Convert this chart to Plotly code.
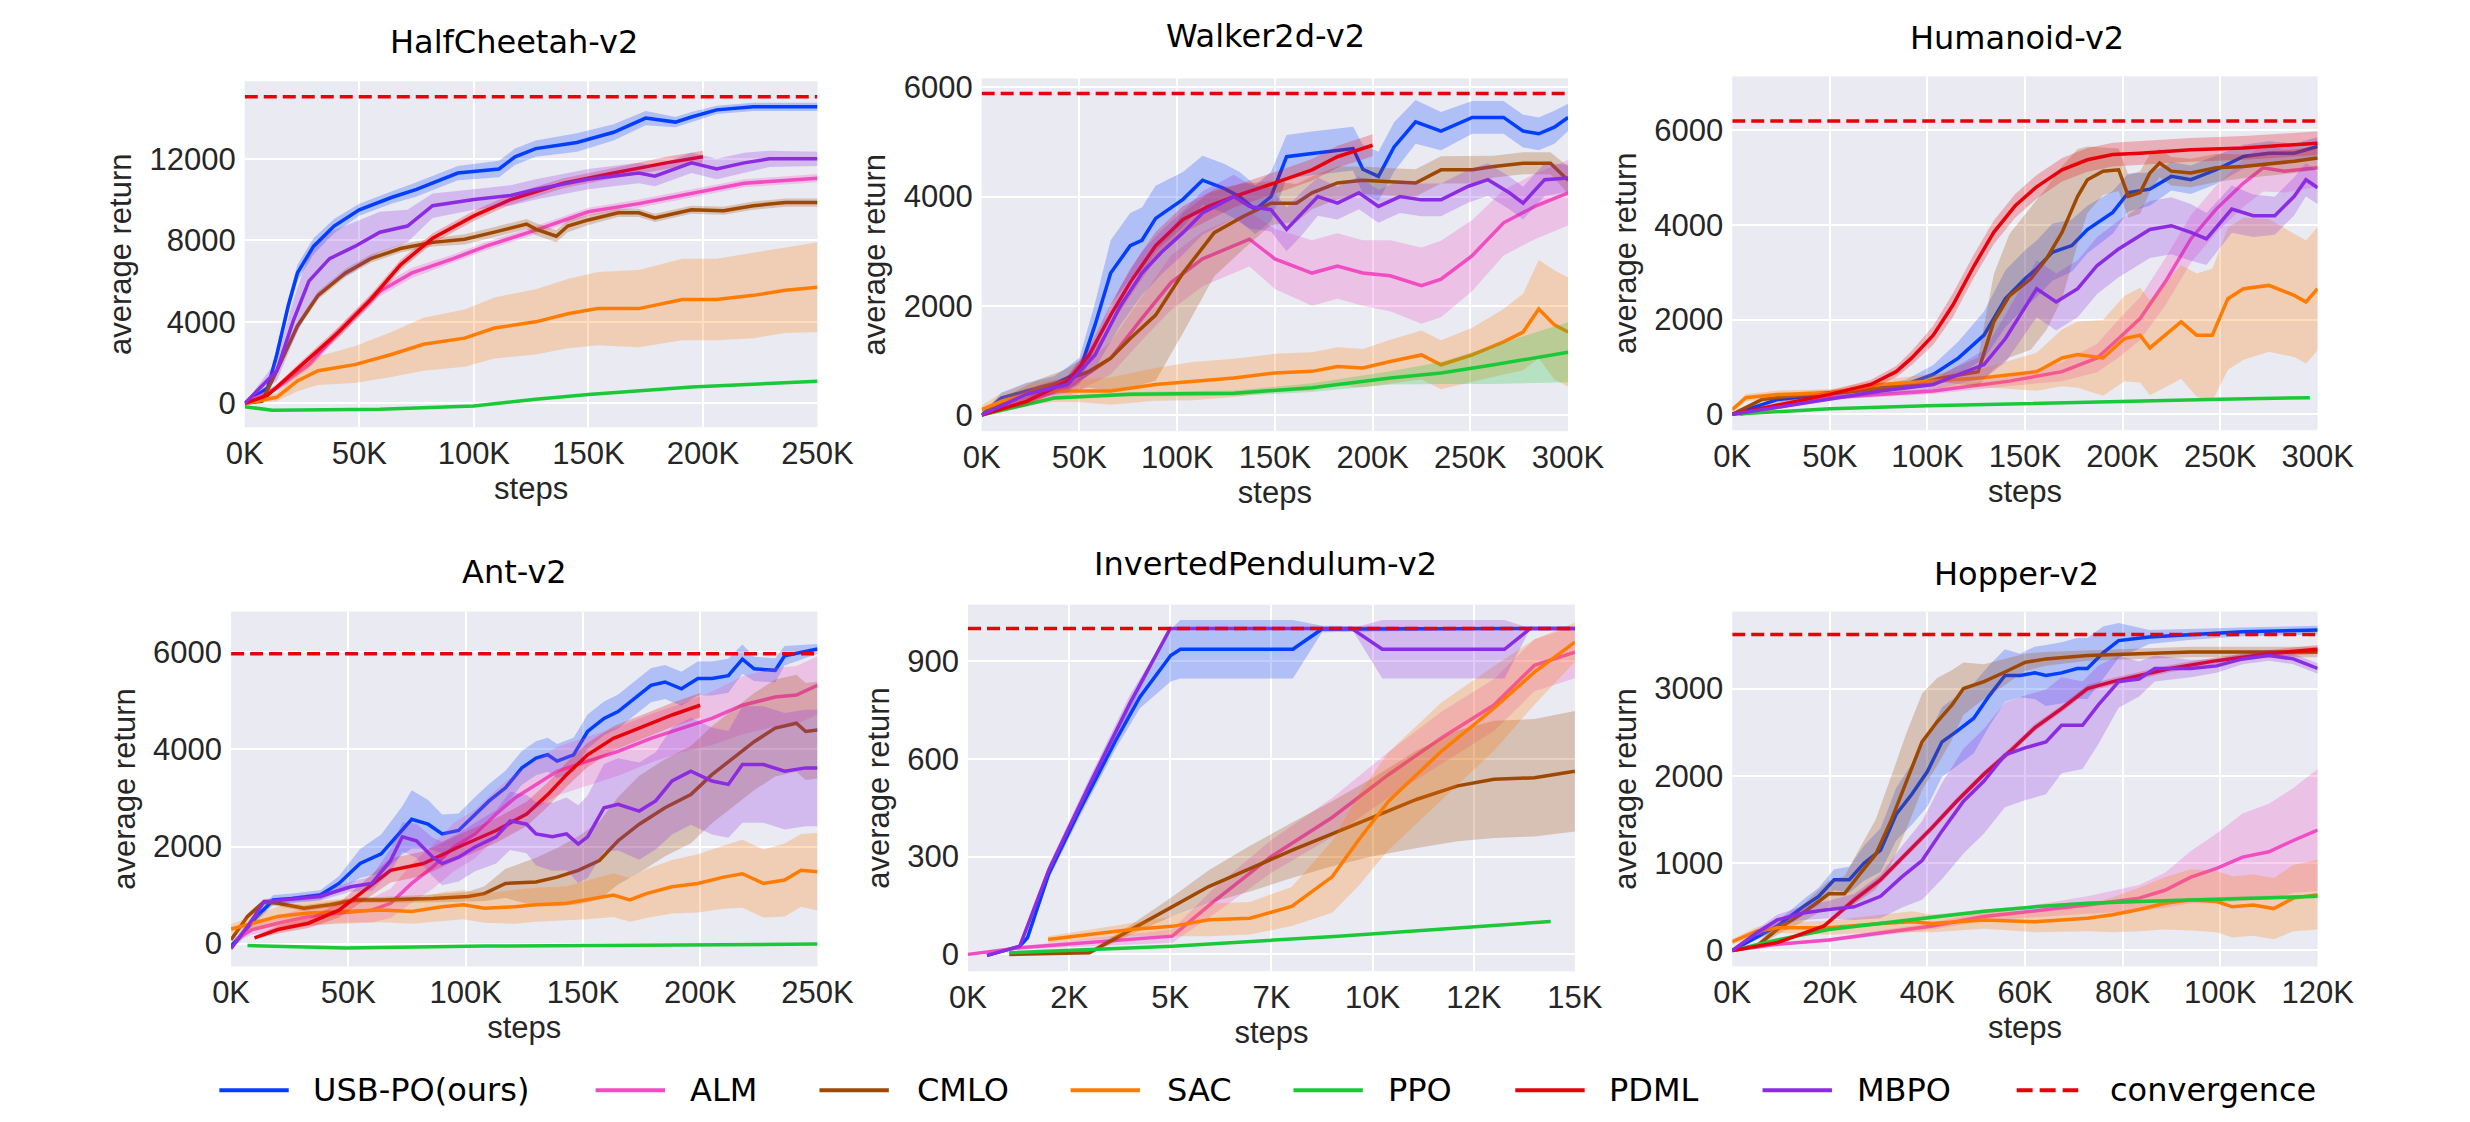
import plotly.graph_objects as go

FIG_W, FIG_H = 2470, 1122

# ---------------- legend / style ----------------
METHOD_KEYS = ["USB", "ALM", "CMLO", "SAC", "PPO", "PDML", "MBPO"]
METHOD_NAMES = ["USB-PO(ours)", "ALM", "CMLO", "SAC", "PPO", "PDML", "MBPO"]
METHOD_COLORS = ["#023eff", "#f14cc1", "#9f4800", "#ff7c00", "#1ac938", "#e8000b", "#8b2be2"]
CONV_NAME = "convergence"
CONV_COLOR = "#e8000b"

ENV_NAMES = ["HalfCheetah-v2", "Walker2d-v2", "Humanoid-v2", "Ant-v2",
             "InvertedPendulum-v2", "Hopper-v2"]
CONVERGENCE = [15050, 5890, 6190, 5970, 1000, 3620]

# ---------------- HalfCheetah-v2 (steps in K) ----------------
HC_USB_X = [0, 10, 14, 19, 23, 30, 39, 50, 64, 75, 93, 111, 118, 127, 145, 161, 175, 188, 195, 206, 222, 250]
HC_USB_Y = [0, 760, 2400, 4800, 6400, 7700, 8700, 9500, 10100, 10500, 11300, 11500, 12100, 12500, 12800, 13300, 14000, 13800, 14050, 14400, 14550, 14550]
HC_USB_SD = [0, 150, 300, 350, 400, 400, 350, 300, 300, 350, 350, 400, 400, 400, 450, 400, 350, 250, 250, 200, 200, 200]
HC_MBPO_X = [0, 14, 21, 28, 37, 48, 59, 71, 82, 100, 116, 127, 150, 172, 179, 195, 206, 218, 229, 250]
HC_MBPO_Y = [0, 1600, 4000, 6000, 7100, 7700, 8400, 8700, 9700, 10000, 10200, 10500, 11000, 11300, 11150, 11800, 11500, 11800, 12000, 12000]
HC_MBPO_SD = [0, 500, 1000, 1300, 1300, 1200, 1000, 800, 600, 500, 500, 500, 500, 500, 500, 500, 500, 500, 400, 350]
HC_PDML_X = [0, 10, 25, 41, 55, 68, 82, 100, 116, 139, 161, 184, 200]
HC_PDML_Y = [0, 400, 1900, 3500, 5100, 6800, 8100, 9200, 10000, 10800, 11300, 11800, 12100]
HC_PDML_SD = [0, 100, 200, 250, 250, 250, 250, 250, 250, 250, 250, 300, 300]
HC_ALM_X = [0, 14, 28, 41, 59, 73, 91, 105, 127, 150, 172, 195, 218, 250]
HC_ALM_Y = [0, 760, 1900, 3500, 5500, 6400, 7100, 7700, 8500, 9400, 9800, 10300, 10800, 11050]
HC_ALM_SD = [0, 150, 200, 250, 250, 250, 200, 200, 200, 200, 200, 200, 200, 200]
HC_CMLO_X = [0, 7.5, 14, 23, 32, 44, 55, 68, 82, 96, 109, 123, 127, 136, 141, 150, 163, 172, 179, 195, 209, 222, 236, 250]
HC_CMLO_Y = [0, 100, 1600, 3800, 5300, 6400, 7100, 7600, 7900, 8050, 8400, 8800, 8550, 8200, 8700, 9000, 9350, 9350, 9100, 9500, 9450, 9700, 9850, 9850]
HC_CMLO_SD = [0, 50, 150, 200, 200, 200, 200, 200, 200, 250, 250, 250, 300, 300, 300, 250, 200, 200, 200, 200, 200, 200, 200, 200]
HC_SAC_X = [0, 14, 23, 32, 48, 64, 78, 96, 109, 127, 141, 154, 172, 191, 206, 222, 236, 250]
HC_SAC_Y = [0, 300, 1100, 1600, 1900, 2400, 2900, 3200, 3700, 4000, 4400, 4650, 4650, 5100, 5100, 5300, 5550, 5700]
HC_SAC_SD = [0, 200, 500, 700, 900, 1100, 1300, 1400, 1500, 1600, 1700, 1800, 1900, 2000, 2000, 2100, 2100, 2200]
HC_PPO_X = [0, 12, 59, 100, 127, 150, 195, 250]
HC_PPO_Y = [-160, -340, -290, -130, 200, 440, 800, 1090]
HC_PPO_SD = [20, 30, 30, 30, 30, 30, 30, 30]

# ---------------- Walker2d-v2 ----------------
WK_USB_X = [0, 10, 23, 37, 44, 50, 58, 66, 76, 82, 89, 103, 113, 124, 132, 140, 148, 156, 169, 182, 190, 195, 203, 211, 222, 235, 251, 267, 277, 285, 293, 300]
WK_USB_Y = [0, 310, 440, 560, 680, 800, 1650, 2600, 3100, 3200, 3600, 3950, 4300, 4150, 4000, 3760, 4000, 4730, 4790, 4850, 4880, 4500, 4370, 4910, 5370, 5200, 5450, 5450, 5200, 5150, 5270, 5450]
WK_USB_SD = [0, 100, 150, 150, 200, 250, 400, 600, 600, 600, 600, 500, 450, 450, 450, 450, 450, 400, 400, 400, 400, 450, 450, 450, 400, 350, 300, 300, 300, 300, 300, 250]
WK_PDML_X = [0, 23, 44, 55, 66, 76, 89, 103, 116, 129, 150, 169, 182, 200]
WK_PDML_Y = [0, 250, 620, 1100, 1830, 2430, 3100, 3580, 3820, 4000, 4250, 4490, 4730, 4940]
WK_PDML_SD = [0, 80, 100, 150, 200, 250, 250, 250, 250, 200, 200, 200, 200, 200]
WK_CMLO_X = [0, 10, 29, 42, 55, 66, 76, 89, 103, 119, 134, 148, 161, 169, 182, 195, 209, 222, 235, 251, 262, 277, 291, 300]
WK_CMLO_Y = [0, 200, 500, 620, 800, 1040, 1400, 1830, 2600, 3340, 3640, 3880, 3880, 4070, 4250, 4300, 4270, 4250, 4490, 4490, 4550, 4610, 4610, 4300]
WK_CMLO_SD = [0, 100, 150, 200, 300, 600, 900, 1200, 1100, 800, 600, 400, 350, 300, 300, 250, 250, 250, 250, 250, 200, 200, 200, 250]
WK_MBPO_X = [0, 23, 44, 58, 71, 82, 92, 103, 113, 129, 137, 148, 156, 164, 172, 182, 193, 203, 214, 225, 235, 249, 259, 270, 277, 288, 300]
WK_MBPO_Y = [0, 380, 560, 1100, 2000, 2600, 2980, 3340, 3700, 4000, 3820, 3760, 3400, 3700, 4000, 3880, 4070, 3820, 4000, 3940, 3940, 4190, 4310, 4070, 3880, 4310, 4340]
WK_MBPO_SD = [0, 100, 150, 250, 350, 400, 400, 400, 400, 400, 400, 400, 400, 400, 350, 300, 300, 300, 300, 300, 300, 300, 300, 300, 300, 300, 250]
WK_ALM_X = [0, 23, 44, 66, 82, 97, 113, 129, 137, 150, 169, 182, 195, 209, 225, 235, 251, 267, 283, 300]
WK_ALM_Y = [0, 250, 500, 1040, 1770, 2430, 2860, 3100, 3220, 2860, 2600, 2730, 2600, 2550, 2370, 2490, 2920, 3520, 3820, 4070]
WK_ALM_SD = [0, 100, 150, 300, 400, 500, 500, 500, 500, 550, 600, 600, 600, 650, 700, 700, 650, 600, 600, 600]
WK_SAC_X = [0, 10, 23, 37, 50, 66, 89, 108, 129, 150, 169, 182, 195, 209, 225, 235, 251, 267, 277, 285, 293, 300]
WK_SAC_Y = [100, 250, 380, 440, 440, 440, 560, 620, 680, 770, 800, 890, 860, 980, 1100, 920, 1100, 1340, 1520, 1940, 1650, 1520]
WK_SAC_SD = [80, 150, 200, 200, 200, 250, 300, 350, 350, 350, 350, 350, 350, 400, 450, 450, 500, 600, 700, 900, 1000, 1000]
WK_PPO_X = [0, 37, 76, 129, 169, 209, 235, 262, 300]
WK_PPO_Y = [0, 310, 380, 400, 500, 680, 770, 920, 1150]
WK_PPO_SD = [0, 30, 40, 50, 80, 120, 200, 350, 550]

# ---------------- Humanoid-v2 ----------------
HM_PDML_X = [0, 23, 50, 71, 84, 92, 103, 113, 124, 134, 145, 156, 169, 182, 195, 209, 235, 262, 288, 300]
HM_PDML_Y = [0, 200, 420, 630, 900, 1190, 1670, 2300, 3140, 3840, 4400, 4800, 5160, 5370, 5480, 5510, 5580, 5620, 5690, 5720]
HM_PDML_SD = [0, 60, 80, 100, 120, 150, 200, 250, 250, 250, 250, 250, 250, 250, 250, 250, 250, 250, 250, 250]
HM_CMLO_X = [0, 15, 36, 63, 89, 108, 126, 134, 142, 153, 161, 169, 177, 182, 190, 198, 203, 209, 214, 219, 225, 235, 248, 262, 288, 300]
HM_CMLO_Y = [0, 310, 420, 490, 590, 770, 900, 1950, 2500, 2860, 3280, 3840, 4600, 4950, 5130, 5160, 4600, 4680, 5090, 5300, 5130, 5090, 5200, 5230, 5340, 5410]
HM_CMLO_SD = [0, 50, 60, 60, 80, 100, 300, 1000, 1300, 1500, 1500, 1400, 1000, 700, 500, 450, 450, 450, 400, 300, 300, 300, 300, 250, 250, 250]
HM_USB_X = [0, 23, 63, 89, 103, 116, 129, 140, 150, 156, 164, 174, 182, 195, 203, 214, 225, 235, 248, 262, 275, 288, 300]
HM_USB_Y = [0, 310, 490, 630, 840, 1190, 1670, 2440, 2860, 3070, 3420, 3560, 3900, 4260, 4680, 4750, 5020, 4950, 5160, 5440, 5510, 5510, 5650]
HM_USB_SD = [0, 50, 60, 100, 200, 350, 500, 600, 600, 600, 600, 550, 500, 450, 400, 350, 300, 300, 300, 250, 250, 200, 200]
HM_MBPO_X = [0, 76, 103, 129, 140, 156, 166, 177, 187, 198, 214, 225, 235, 243, 256, 267, 278, 288, 294, 300]
HM_MBPO_Y = [0, 490, 630, 1050, 1600, 2650, 2370, 2650, 3140, 3490, 3900, 3980, 3840, 3700, 4330, 4190, 4190, 4600, 4950, 4780]
HM_MBPO_SD = [0, 60, 100, 300, 500, 600, 600, 600, 600, 600, 600, 600, 600, 550, 500, 450, 400, 400, 350, 350]
HM_ALM_X = [4, 50, 103, 142, 169, 187, 198, 209, 222, 235, 248, 262, 272, 283, 300]
HM_ALM_Y = [0, 350, 490, 700, 900, 1190, 1600, 2020, 2800, 3700, 4330, 4880, 5200, 5130, 5200]
HM_ALM_SD = [0, 40, 60, 100, 200, 300, 400, 450, 500, 500, 500, 500, 500, 450, 400]
HM_SAC_X = [0, 7, 23, 50, 76, 103, 129, 156, 169, 177, 190, 201, 209, 214, 222, 230, 238, 246, 254, 262, 275, 288, 294, 300]
HM_SAC_Y = [100, 350, 420, 450, 630, 700, 770, 900, 1190, 1260, 1190, 1600, 1670, 1400, 1670, 1950, 1670, 1670, 2440, 2650, 2720, 2510, 2370, 2650]
HM_SAC_SD = [50, 80, 80, 80, 100, 150, 200, 400, 600, 700, 800, 900, 1000, 1000, 1100, 1200, 1300, 1400, 1500, 1500, 1400, 1300, 1300, 1300]
HM_PPO_X = [0, 50, 100, 150, 200, 250, 296]
HM_PPO_Y = [0, 120, 180, 230, 280, 320, 350]
HM_PPO_SD = [0, 10, 10, 10, 10, 10, 10]

# ---------------- Ant-v2 ----------------
AN_USB_X = [0, 4, 11, 18, 26, 38, 46, 55, 64, 73, 77, 84, 90, 97, 104, 110, 117, 124, 130, 135, 139, 146, 152, 159, 165, 172, 179, 185, 192, 199, 205, 212, 218, 223, 232, 236, 243, 250]
AN_USB_Y = [-50, 150, 560, 900, 930, 1000, 1240, 1650, 1850, 2330, 2560, 2460, 2260, 2330, 2670, 2940, 3210, 3620, 3820, 3890, 3760, 3890, 4370, 4640, 4780, 5050, 5320, 5390, 5250, 5460, 5460, 5520, 5860, 5660, 5630, 5930, 6000, 6070]
AN_USB_SD = [50, 100, 100, 100, 100, 100, 150, 300, 400, 500, 600, 500, 400, 350, 350, 350, 350, 350, 350, 350, 350, 350, 350, 350, 350, 350, 350, 350, 350, 350, 350, 350, 300, 250, 250, 200, 150, 100]
AN_PDML_X = [10, 20, 33, 46, 57, 68, 82, 97, 113, 126, 135, 143, 152, 163, 174, 188, 200]
AN_PDML_Y = [120, 290, 420, 690, 1100, 1510, 1650, 1990, 2330, 2670, 3070, 3480, 3890, 4230, 4440, 4710, 4910]
AN_PDML_SD = [30, 80, 100, 150, 200, 250, 250, 250, 250, 250, 250, 250, 250, 250, 250, 250, 250]
AN_ALM_X = [2, 9, 20, 33, 46, 60, 68, 77, 86, 95, 104, 113, 121, 130, 139, 152, 165, 179, 192, 205, 218, 232, 241, 250]
AN_ALM_Y = [80, 290, 420, 560, 630, 690, 830, 1240, 1580, 1990, 2260, 2670, 3000, 3280, 3550, 3760, 3960, 4230, 4440, 4640, 4910, 5080, 5120, 5320]
AN_ALM_SD = [50, 100, 150, 200, 200, 250, 300, 400, 450, 500, 500, 500, 500, 500, 500, 500, 500, 500, 500, 550, 600, 600, 600, 600]
AN_CMLO_X = [0, 7, 14, 20, 31, 42, 53, 64, 86, 101, 108, 117, 130, 139, 148, 157, 165, 174, 185, 196, 205, 214, 223, 232, 241, 245, 250]
AN_CMLO_Y = [80, 560, 860, 830, 730, 800, 900, 900, 930, 970, 1030, 1240, 1270, 1370, 1510, 1710, 2120, 2460, 2800, 3070, 3480, 3820, 4160, 4440, 4540, 4370, 4400]
AN_CMLO_SD = [50, 60, 60, 60, 60, 60, 60, 60, 80, 100, 150, 300, 500, 600, 700, 800, 900, 1000, 1000, 1000, 1000, 1000, 1000, 1000, 1000, 1000, 1000]
AN_MBPO_X = [0, 7, 14, 24, 38, 51, 60, 68, 73, 79, 86, 90, 97, 104, 113, 119, 126, 130, 137, 143, 148, 152, 159, 165, 174, 181, 188, 196, 205, 212, 218, 227, 236, 245, 250]
AN_MBPO_Y = [-100, 350, 860, 900, 970, 1170, 1240, 1710, 2200, 2120, 1780, 1650, 1780, 1990, 2200, 2530, 2460, 2260, 2200, 2260, 2050, 2200, 2800, 2870, 2730, 2940, 3350, 3550, 3350, 3280, 3690, 3690, 3550, 3620, 3620]
AN_MBPO_SD = [50, 60, 60, 60, 80, 100, 150, 250, 300, 350, 400, 450, 500, 500, 550, 600, 600, 650, 700, 750, 800, 850, 900, 950, 1000, 1000, 1100, 1100, 1100, 1100, 1200, 1200, 1200, 1200, 1200]
AN_SAC_X = [0, 9, 20, 33, 46, 64, 77, 90, 99, 108, 121, 130, 143, 152, 163, 170, 177, 188, 199, 210, 218, 227, 236, 243, 250]
AN_SAC_Y = [300, 420, 560, 630, 660, 690, 660, 760, 800, 730, 760, 800, 830, 900, 1000, 900, 1030, 1170, 1240, 1370, 1440, 1240, 1310, 1510, 1480]
AN_SAC_SD = [100, 150, 200, 250, 250, 250, 250, 300, 300, 300, 350, 350, 350, 400, 450, 450, 500, 550, 600, 650, 700, 700, 750, 750, 800]
AN_PPO_X = [7, 49, 108, 174, 250]
AN_PPO_Y = [-40, -90, -50, -30, -10]
AN_PPO_SD = [10, 10, 10, 10, 10]

# ---------------- InvertedPendulum-v2 (no PDML run) ----------------
IP_USB_X = [0.47, 1.28, 1.47, 2.0, 2.75, 3.64, 4.25, 5.01, 5.25, 8.03, 8.75, 15.0]
IP_USB_Y = [-3, 25, 51, 248, 440, 654, 790, 917, 936, 936, 998, 1000]
IP_USB_SD = [0, 3, 5, 15, 20, 25, 35, 80, 90, 90, 10, 0]
IP_MBPO_X = [0.47, 1.28, 2.0, 3.0, 4.0, 5.0, 9.48, 10.24, 13.26, 13.9, 15.0]
IP_MBPO_Y = [-3, 25, 260, 520, 770, 1000, 1000, 936, 936, 1000, 1000]
IP_MBPO_SD = [0, 3, 15, 20, 25, 0, 0, 90, 90, 0, 0]
IP_ALM_X = [0, 1.28, 5.05, 6.07, 7.48, 9.0, 10.4, 11.7, 13.0, 14.0, 15.0]
IP_ALM_Y = [0, 20, 56, 162, 299, 420, 552, 664, 765, 887, 927]
IP_ALM_SD = [0, 5, 20, 40, 50, 60, 70, 80, 80, 80, 80]
IP_SAC_X = [1.98, 4.03, 5.05, 5.95, 6.97, 8.0, 9.0, 9.65, 10.4, 11.7, 13.0, 14.0, 15.0]
IP_SAC_Y = [46, 76, 86, 106, 111, 147, 238, 350, 471, 623, 755, 866, 958]
IP_SAC_SD = [10, 20, 30, 50, 50, 60, 110, 140, 150, 150, 130, 100, 60]
IP_CMLO_X = [1.02, 3.0, 4.03, 5.05, 5.95, 6.97, 8.0, 9.0, 10.0, 11.1, 12.1, 13.0, 14.0, 15.0]
IP_CMLO_Y = [0, 5, 76, 147, 208, 263, 319, 370, 421, 476, 517, 537, 542, 562]
IP_CMLO_SD = [0, 5, 15, 30, 50, 70, 85, 100, 120, 150, 170, 180, 180, 185]
IP_PPO_X = [1.02, 5.05, 9.15, 14.4]
IP_PPO_Y = [5, 25, 56, 101]
IP_PPO_SD = [2, 3, 3, 3]

# ---------------- Hopper-v2 ----------------
HP_USB_X = [0, 9.2, 14.5, 17.7, 20.9, 24, 27, 30.4, 33.6, 36.8, 40, 43, 46, 49.5, 52.7, 55.9, 59, 62, 64.3, 67.5, 70.7, 72.8, 76, 79.2, 85.5, 94, 104.6, 120]
HP_USB_Y = [0, 280, 500, 620, 810, 810, 1000, 1150, 1560, 1790, 2050, 2390, 2510, 2660, 2920, 3150, 3150, 3180, 3150, 3180, 3230, 3230, 3410, 3550, 3590, 3620, 3650, 3670]
HP_USB_SD = [0, 50, 80, 100, 120, 150, 200, 250, 300, 350, 400, 400, 400, 400, 350, 300, 250, 300, 350, 350, 350, 350, 300, 200, 80, 60, 50, 50]
HP_CMLO_X = [0, 5, 9.2, 14.5, 19.8, 23, 26.2, 29.4, 32.5, 35.7, 38.9, 42, 45, 47.4, 51.6, 55.9, 60, 64.3, 72.8, 83.4, 94, 104.6, 120]
HP_CMLO_Y = [0, 50, 240, 430, 650, 650, 880, 1100, 1480, 1940, 2390, 2620, 2810, 3000, 3080, 3190, 3300, 3340, 3380, 3400, 3420, 3420, 3420]
HP_CMLO_SD = [0, 30, 60, 100, 150, 200, 300, 400, 500, 550, 550, 500, 400, 300, 200, 150, 100, 80, 60, 60, 60, 60, 60]
HP_MBPO_X = [0, 5, 9.2, 14.5, 19.8, 25, 30.4, 34.7, 38.9, 43, 47.4, 51.6, 55.9, 60, 64.3, 67.5, 71.8, 75, 79.2, 83.4, 86.6, 94, 99.3, 104.6, 110, 115, 120]
HP_MBPO_Y = [0, 200, 350, 430, 470, 500, 620, 840, 1030, 1370, 1710, 1940, 2240, 2320, 2390, 2580, 2580, 2810, 3080, 3110, 3230, 3230, 3260, 3340, 3380, 3340, 3230]
HP_MBPO_SD = [0, 40, 60, 80, 100, 150, 250, 350, 450, 550, 600, 600, 600, 600, 600, 550, 500, 450, 300, 200, 150, 100, 80, 60, 60, 60, 60]
HP_PDML_X = [0, 9.2, 18.8, 25, 30.4, 35.7, 41, 46, 51.6, 56.9, 62, 67.5, 72.8, 78, 83.4, 89.8, 99.3, 110, 120]
HP_PDML_Y = [0, 90, 280, 580, 810, 1110, 1410, 1710, 2020, 2280, 2550, 2770, 3000, 3080, 3150, 3230, 3320, 3400, 3450]
HP_PDML_SD = [0, 20, 30, 40, 40, 40, 40, 40, 40, 40, 40, 40, 40, 40, 40, 40, 40, 40, 50]
HP_ALM_X = [0, 9.2, 19.8, 30.4, 41, 51.6, 62, 72.8, 83.4, 88.7, 94, 99.3, 104.6, 110, 115, 120]
HP_ALM_Y = [0, 70, 120, 200, 280, 390, 450, 520, 600, 690, 840, 940, 1070, 1130, 1260, 1380]
HP_ALM_SD = [0, 10, 20, 30, 40, 50, 70, 100, 150, 200, 300, 400, 500, 550, 600, 700]
HP_SAC_X = [0, 5, 9.2, 19.8, 30.4, 36.8, 41, 51.6, 62, 72.8, 78, 83.4, 88.7, 94, 99.3, 102.5, 106.8, 111, 115, 120]
HP_SAC_Y = [100, 220, 260, 260, 310, 330, 310, 350, 330, 370, 410, 470, 540, 580, 560, 500, 520, 480, 600, 640]
HP_SAC_SD = [30, 50, 60, 80, 100, 120, 100, 100, 120, 150, 200, 250, 300, 350, 350, 350, 350, 350, 380, 400]
HP_PPO_X = [0, 9.2, 19.8, 30.4, 41, 51.6, 62, 72.8, 83.4, 94, 104.6, 120]
HP_PPO_Y = [0, 120, 240, 310, 390, 450, 500, 540, 560, 580, 600, 620]
HP_PPO_SD = [0, 10, 15, 20, 20, 20, 20, 20, 20, 20, 20, 20]

# ---------------- axis ticks ----------------
HC_XTICKS_K = [0, 50, 100, 150, 200, 250]
WK_XTICKS_K = [0, 50, 100, 150, 200, 250, 300]
HM_XTICKS_K = [0, 50, 100, 150, 200, 250, 300]
AN_XTICKS_K = [0, 50, 100, 150, 200, 250]
IP_XTICKS_K = [0, 2.5, 5, 7.5, 10, 12.5, 15]
HP_XTICKS_K = [0, 20, 40, 60, 80, 100, 120]
HC_YTICKS = [0, 4000, 8000, 12000]
WK_YTICKS = [0, 2000, 4000, 6000]
HM_YTICKS = [0, 2000, 4000, 6000]
AN_YTICKS = [0, 2000, 4000, 6000]
IP_YTICKS = [0, 300, 600, 900]
HP_YTICKS = [0, 1000, 2000, 3000]

# ---------------- assemble ----------------
g = globals()
ENV_PREFIX = ["HC", "WK", "HM", "AN", "IP", "HP"]
ENV_XRANGE_K = [[0, 250], [0, 300], [0, 300], [0, 250], [0, 15], [0, 120]]
ENV_YRANGE = [[-1170, 15800], [-296, 6165], [-335, 7130], [-469, 6840], [-52, 1073], [-182, 3882]]
ENV_XTICKS = [HC_XTICKS_K, WK_XTICKS_K, HM_XTICKS_K, AN_XTICKS_K, IP_XTICKS_K, HP_XTICKS_K]
ENV_YTICKS = [HC_YTICKS, WK_YTICKS, HM_YTICKS, AN_YTICKS, IP_YTICKS, HP_YTICKS]

# panel boxes in pixels: (left, right, top, bottom)
BOXES = [(231, 817, 74, 423), (985, 1585, 71, 427), (1753, 2352, 69, 426),
         (217, 817, 609, 967), (971, 1592, 602, 972), (1753, 2352, 609, 967)]
TITLE_POS = [(506, 55), (1275, 49), (2044, 51), (507, 590), (1275, 582), (2044, 592)]


def rgba(hexc, a):
    h = hexc.lstrip("#")
    return "rgba(%d,%d,%d,%.2f)" % (int(h[0:2], 16), int(h[2:4], 16), int(h[4:6], 16), a)


fig = go.Figure()
layout = {}
annotations = []
shapes = []

TICK_FONT = dict(family="Liberation Sans, Arial, sans-serif", size=31, color="#262626")
AXT_FONT = dict(family="Liberation Sans, Arial, sans-serif", size=31, color="#262626")

for i, env in enumerate(ENV_NAMES):
    p = ENV_PREFIX[i]
    xa = "x" if i == 0 else "x%d" % (i + 1)
    ya = "y" if i == 0 else "y%d" % (i + 1)
    xk = "xaxis" if i == 0 else "xaxis%d" % (i + 1)
    yk = "yaxis" if i == 0 else "yaxis%d" % (i + 1)
    l, r, t, b = BOXES[i]
    for k, key in enumerate(METHOD_KEYS):
        nm = "%s_%s_" % (p, key)
        if nm + "X" not in g:
            continue
        xs = [v * 1000 for v in g[nm + "X"]]
        ys = g[nm + "Y"]
        sd = g[nm + "SD"]
        up = [a + s for a, s in zip(ys, sd)]
        lo = [a - s for a, s in zip(ys, sd)]
        fig.add_trace(go.Scatter(x=xs + xs[::-1], y=up + lo[::-1], mode="lines", fill="toself",
                                 fillcolor=rgba(METHOD_COLORS[k], 0.25), line=dict(width=0),
                                 hoverinfo="skip", showlegend=False, xaxis=xa, yaxis=ya))
        fig.add_trace(go.Scatter(x=xs, y=ys, mode="lines", name=METHOD_NAMES[k],
                                 line=dict(color=METHOD_COLORS[k], width=3.5),
                                 showlegend=False, xaxis=xa, yaxis=ya))
    xr = [v * 1000 for v in ENV_XRANGE_K[i]]
    fig.add_trace(go.Scatter(x=xr, y=[CONVERGENCE[i]] * 2, mode="lines", name=CONV_NAME,
                             line=dict(color=CONV_COLOR, width=3.5, dash="13px,6px"),
                             showlegend=False, xaxis=xa, yaxis=ya))
    ticks = ENV_XTICKS[i]
    layout[xk] = dict(domain=[l / FIG_W, r / FIG_W], anchor=ya, range=xr,
                      tickvals=[v * 1000 for v in ticks],
                      ticktext=["%dK" % int(v) for v in ticks],
                      showgrid=True, gridcolor="white", gridwidth=1.5, zeroline=False,
                      showline=False, ticks="", tickfont=TICK_FONT, ticklabelstandoff=5,
                      title=dict(text="steps", font=AXT_FONT, standoff=0))
    layout[yk] = dict(domain=[1 - b / FIG_H, 1 - t / FIG_H], anchor=xa, range=ENV_YRANGE[i],
                      tickvals=ENV_YTICKS[i], ticktext=[str(v) for v in ENV_YTICKS[i]],
                      showgrid=True, gridcolor="white", gridwidth=1.5, zeroline=False,
                      showline=False, ticks="", tickfont=TICK_FONT, ticklabelstandoff=8,
                      title=dict(text="average return", font=AXT_FONT, standoff=8))
    tx, ty = TITLE_POS[i]
    annotations.append(dict(text=env, x=tx / FIG_W, y=1 - ty / FIG_H, xref="paper", yref="paper",
                            xanchor="center", yanchor="bottom", showarrow=False,
                            font=dict(family="DejaVu Sans", size=32, color="black")))

# custom legend row
LEG_LINE_X = [205, 590, 819, 1076, 1304, 1531, 1784, 2044]
LEG_TEXT_X = [299, 685, 917, 1173, 1399, 1625, 1879, 2137]
LEG_Y = 1092
leg_names = METHOD_NAMES + [CONV_NAME]
leg_colors = METHOD_COLORS + [CONV_COLOR]
for j, nm in enumerate(leg_names):
    ln = 63 if j == len(leg_names) - 1 else 71
    shapes.append(dict(type="line", xref="paper", yref="paper",
                       x0=LEG_LINE_X[j] / FIG_W, x1=(LEG_LINE_X[j] + ln) / FIG_W,
                       y0=1 - LEG_Y / FIG_H, y1=1 - LEG_Y / FIG_H,
                       line=dict(color=leg_colors[j], width=4,
                                 dash="16px,7px" if j == len(leg_names) - 1 else "solid")))
    annotations.append(dict(text=nm, x=LEG_TEXT_X[j] / FIG_W, y=1 - LEG_Y / FIG_H,
                            xref="paper", yref="paper", xanchor="left", yanchor="middle",
                            showarrow=False, font=dict(family="DejaVu Sans", size=32, color="black")))

fig.update_layout(width=FIG_W, height=FIG_H, margin=dict(l=0, r=0, t=0, b=0),
                  paper_bgcolor="white", plot_bgcolor="#eaeaf2", showlegend=False,
                  annotations=annotations, shapes=shapes, **layout)

fig.write_html("out.html")
